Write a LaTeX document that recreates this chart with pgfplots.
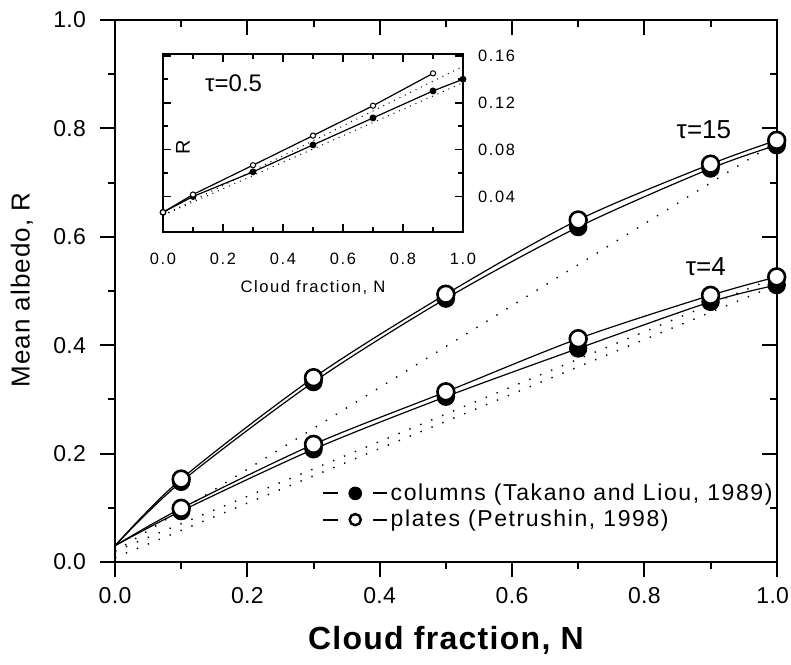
\documentclass[border=0pt]{standalone}
\usepackage{fontspec}
\setmainfont{Liberation Sans}
\newfontfamily\spc[LetterSpace=1.5]{Liberation Sans}
\newfontfamily\lgd[LetterSpace=7]{Liberation Sans}
\newfontfamily\ins[LetterSpace=10]{Liberation Sans}
\usepackage{pgfplots}
\pgfplotsset{compat=1.18}

% main chart: tau=15 and tau=4
\pgfplotstableread{
N    c15    p15    c4     p4
0.0  0.030  0.030  0.030  0.030
0.1  0.148  0.153  0.094  0.099
0.3  0.332  0.340  0.208  0.217
0.5  0.486  0.494  0.305  0.314
0.7  0.618  0.631  0.394  0.412
0.9  0.726  0.734  0.480  0.492
1.0  0.769  0.778  0.511  0.526
}\maintab
% inset: tau=0.5
\pgfplotstableread{
N    c      p
0.0  0.0265 0.0265
0.1  0.040  0.0417
0.3  0.061  0.0667
0.5  0.084  0.0919
0.7  0.107  0.1174
0.9  0.130  0.1450
1.0  0.140  0.1540
}\insettab

\pgfplotsset{
  openmark/.style={mark=*, mark size=4.2pt, mark options={fill=white, draw=black, line width=1.3pt}},
  fullmark/.style={mark=*, mark size=4.4pt, mark options={fill=black, draw=black}},
  dotline/.style={black, line width=0.7pt, dash pattern=on 0.7pt off 5.2pt},
  numfmt/.style={/pgf/number format/fixed, /pgf/number format/fixed zerofill,
    /pgf/number format/precision=#1, /pgf/number format/assume math mode=true},
}

\begin{document}
\begin{tikzpicture}[x=1pt,y=1pt]
\useasboundingbox (-57.5,-51) rectangle (338,281);

% top and right ticks (inside)
\begin{axis}[at={(0,0)}, anchor=south west, scale only axis,
  width=330.85pt, height=271pt,
  xmin=0, xmax=1, ymin=0, ymax=1,
  xtick={0,0.2,...,1}, ytick={0,0.2,...,1},
  minor x tick num=1, minor y tick num=1,
  xtick pos=upper, ytick pos=right, tick align=inside,
  xticklabels={}, yticklabels={},
  major tick length=7.5pt, minor tick length=3.5pt,
  axis line style={line width=1pt},
  every tick/.style={black, line width=1pt}]
\end{axis}

\begin{axis}[at={(0,0)}, anchor=south west, scale only axis,
  width=330.85pt, height=271pt,
  xmin=0, xmax=1, ymin=0, ymax=1,
  xtick={0,0.2,...,1}, ytick={0,0.2,...,1},
  xticklabels={0.0,0.2,0.4,0.6,0.8,\kern-4pt 1.0},
  minor x tick num=1, minor y tick num=1,
  xtick pos=lower, ytick pos=left, tick align=outside,
  major tick length=7.5pt, minor tick length=3.5pt,
  axis line style={line width=1pt},
  every tick/.style={black, line width=1pt},
  tick label style={font=\fontsize{11.5}{13}\spc},
  xticklabel style={yshift=-1.75pt}, yticklabel style={xshift=-3.5pt},
  numfmt=1,
  xlabel={Cloud fraction, N}, ylabel={Mean albedo, R},
  xlabel style={font=\fontsize{16}{18}\bfseries\addfontfeature{LetterSpace=4},
    at={(axis description cs:0.5,0)}, anchor=center, yshift=-39pt},
  ylabel style={font=\fontsize{13}{15}\addfontfeature{LetterSpace=4},
    at={(axis description cs:-0.1406,0.502)}, anchor=center},
  legend cell align=left,
  legend style={draw=none, fill=none, inner sep=0pt,
    at={(axis description cs:0.312,0.1024)}, anchor=west,
    font=\fontsize{11.5}{13.5}\lgd, row sep=0.3pt,
    nodes={inner sep=1.5pt}},
  legend image code/.code={
    \draw[mark=none, line width=0.9pt] (0pt,0pt) -- (7.5pt,0pt);
    \draw[mark=none, line width=0.9pt] (25pt,0pt) -- (32pt,0pt);
    \draw[#1] plot coordinates {(16.25pt,0pt)};
  }]

% dotted lines (linear in N)
\addplot[dotline, forget plot] coordinates {(0,0.02) (1,0.775)};
\addplot[dotline, forget plot] coordinates {(0,0.02) (1,0.526)};
\addplot[dotline, forget plot] coordinates {(0,0.008) (1,0.511)};

% curves
\addplot[black, line width=0.6pt, smooth, forget plot] table[x=N, y=c15] {\maintab};
\addplot[black, line width=0.6pt, smooth, forget plot] table[x=N, y=p15] {\maintab};
\addplot[black, line width=0.6pt, smooth, forget plot] table[x=N, y=c4] {\maintab};
\addplot[black, line width=0.6pt, smooth, forget plot] table[x=N, y=p4] {\maintab};

% markers: columns under plates
\addplot[only marks, fullmark, skip coords between index={0}{1}, forget plot] table[x=N, y=c15] {\maintab};
\addplot[only marks, fullmark, skip coords between index={0}{1}, forget plot] table[x=N, y=c4] {\maintab};
\addplot[only marks, openmark, skip coords between index={0}{1}, forget plot] table[x=N, y=p15] {\maintab};
\addplot[only marks, openmark, skip coords between index={0}{1}, forget plot] table[x=N, y=p4] {\maintab};

\addlegendimage{mark=*, mark size=3.2pt, mark options={fill=black, draw=black}}
\addlegendentry{columns (Takano and Liou, 1989)}
\addlegendimage{mark=*, mark size=2.8pt, mark options={fill=white, draw=black, line width=1.2pt}}
\addlegendentry{plates (Petrushin, 1998)}

\node[font=\fontsize{13}{15}\selectfont, anchor=center] at (axis cs:0.89,0.797) {τ=15};
\node[font=\fontsize{13}{15}\selectfont, anchor=center] at (axis cs:0.893,0.544) {τ=4};
\end{axis}

% inset
\begin{axis}[at={(24pt,165.15pt)}, anchor=south west, scale only axis,
  width=150pt, height=88.85pt,
  xmin=0, xmax=1, ymin=0.01, ymax=0.1615,
  xtick={0,0.2,...,1}, ytick={0.04,0.08,0.12,0.16},
  minor x tick num=1, minor y tick num=1,
  tick align=inside, yticklabel pos=right,
  major tick length=4pt, minor tick length=2.5pt,
  axis line style={line width=0.9pt},
  every tick/.style={black, line width=0.9pt},
  tick label style={font=\fontsize{8.2}{9}\ins},
  xticklabel style={/pgf/number format/precision=1, yshift=-7pt},
  yticklabel style={/pgf/number format/precision=2, xshift=4pt},
  numfmt=1,
  xlabel={Cloud fraction, N},
  xlabel style={font=\fontsize{8.3}{10}\addfontfeature{LetterSpace=9},
    at={(axis description cs:0.5,0)}, anchor=center, yshift=-27.7pt}]
\addplot[dotline, line width=0.5pt, dash pattern=on 0.5pt off 2.5pt] coordinates {(0,0.024) (1,0.151)};
\addplot[dotline, line width=0.5pt, dash pattern=on 0.5pt off 2.5pt] coordinates {(0,0.024) (1,0.137)};
\addplot[black, line width=0.6pt, mark=*, mark size=1.4pt, mark options={fill=black}] table[x=N, y=c] {\insettab};
\addplot[black, line width=0.6pt, mark=*, mark size=1.3pt, mark options={fill=white, line width=0.5pt},
  skip coords between index={6}{7}] table[x=N, y=p] {\insettab};
\node[font=\fontsize{12}{14}\selectfont, anchor=west] at (axis description cs:0.117,0.837) {τ=0.5};
\node[font=\fontsize{10}{12}\selectfont, rotate=90] at (axis description cs:0.067,0.477) {R};
\end{axis}
\end{tikzpicture}
\end{document}
